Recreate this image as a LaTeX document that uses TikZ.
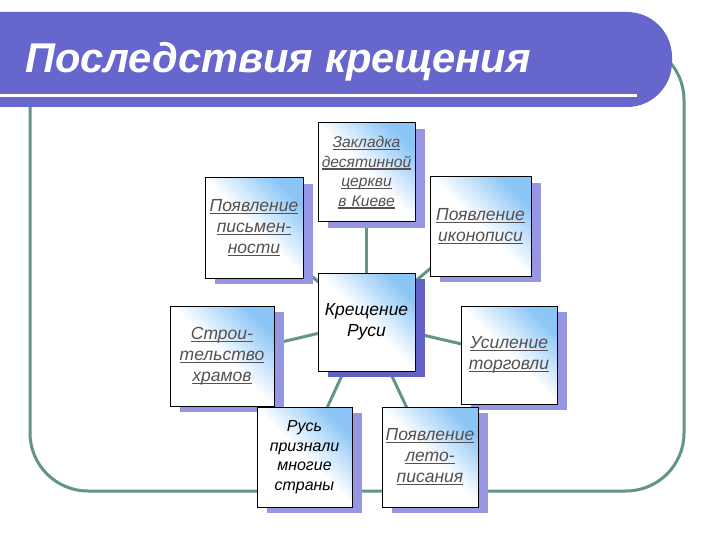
\documentclass[tikz,border=0pt]{standalone}
\usepackage{fontspec}
\setmainfont{Liberation Sans}
\usetikzlibrary{shadows}
\definecolor{banner}{RGB}{102,102,204}
\definecolor{frameteal}{RGB}{98,148,138}
\definecolor{cardblue}{RGB}{140,198,246}
\definecolor{shadowlight}{RGB}{150,150,226}
\definecolor{shadowdark}{RGB}{98,98,198}
\definecolor{linkgray}{RGB}{86,80,80}
\pgfdeclarelayer{background}
\pgfsetlayers{background,main}
\newcommand\lnk[1]{\leavevmode\setbox0\hbox{#1}\rlap{\rule[-2.6pt]{\wd0}{1.3pt}}\box0}
\begin{document}
\begin{tikzpicture}[x=1pt,y=-1pt,
  card/.style={draw=black, line width=1pt, top color=cardblue, bottom color=white, middle color=white,
    shading angle=-45, inner sep=0pt, align=center, text width=95pt,
    font=\itshape\fontsize{17.5pt}{21pt}\selectfont,
    drop shadow={shadow xshift=10pt, shadow yshift=-6pt, fill=shadowlight, opacity=1}},
  linkcard/.style={card, text=linkgray},
  plaincard/.style={card, text=black},
  conn/.style={draw=frameteal, line width=3pt},
  frameline/.style={draw=frameteal, line width=3pt, rounded corners=58pt}]
\useasboundingbox (0,0) rectangle (720,540);
\begin{pgfonlayer}{background}
\fill[white] (0,0) rectangle (720,540);
\end{pgfonlayer}
% frame
\draw[frameline] (30,42) rectangle (684,491);
% banner
\fill[banner] (0,12) [rounded corners=45pt] -- (672,12) -- (672,107) [sharp corners] -- (0,107) -- cycle;
\fill[white] (0,94) rectangle (637,97.5);
\node[anchor=base west, text=white, font=\bfseries\itshape\fontsize{41.6pt}{48pt}\selectfont, inner sep=0pt] (title) at (25,72.5) {Последствия крещения};
% cards
\node[linkcard, minimum width=97pt, minimum height=99pt,
  font=\itshape\fontsize{15.6pt}{19.5pt}\selectfont] (b1) at (366.5,172.5)
  {\lnk{Закладка}\\\lnk{десятинной}\\\lnk{церкви}\\\lnk{в Киеве}};
\node[linkcard, minimum width=98pt, minimum height=100pt] (b2) at (254,228)
  {\lnk{Появление}\\\lnk{письмен-}\\\lnk{ности}};
\node[linkcard, minimum width=101pt, minimum height=99pt] (b3) at (480.5,226.5)
  {\lnk{Появление}\\\lnk{иконописи}};
\node[plaincard, minimum width=97pt, minimum height=98pt,
  drop shadow={shadow xshift=10pt, shadow yshift=-6pt, fill=shadowdark, opacity=1}] (c) at (366.5,322)
  {Крещение\\Руси};
\node[linkcard, minimum width=104pt, minimum height=100pt] (b5) at (222,356)
  {\lnk{Строи-}\\\lnk{тельство}\\\lnk{храмов}};
\node[linkcard, minimum width=96pt, minimum height=98pt] (b6) at (509,355)
  {\lnk{Усиление}\\\lnk{торговли}};
\node[plaincard, minimum width=95pt, minimum height=100pt,
  font=\itshape\fontsize{16pt}{19.5pt}\selectfont] (b7) at (304.5,457)
  {Русь\\признали\\многие\\страны};
\node[linkcard, minimum width=96pt, minimum height=100pt] (b8) at (430,457)
  {\lnk{Появление}\\\lnk{лето-}\\\lnk{писания}};
% connectors
\begin{pgfonlayer}{background}
\foreach \n in {b1,b2,b3,b5,b6,b7,b8}
  \draw[conn] (c.center) -- (\n.center);
\end{pgfonlayer}
\end{tikzpicture}
\end{document}
